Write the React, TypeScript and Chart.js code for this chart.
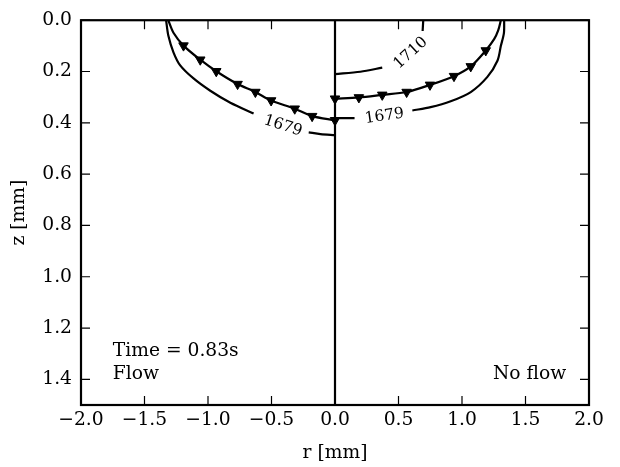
import { useEffect, useRef } from "react";
import { Chart, registerables } from "chart.js";

Chart.register(...registerables);

// Axis ticks
const rTicks = [-2, -1.5, -1, -0.5, 0, 0.5, 1, 1.5, 2];
const zTicks = [0, 0.2, 0.4, 0.6, 0.8, 1.0, 1.2, 1.4];

// Flow side (r < 0): melt front with markers
const flowFrontR = [-1.313, -1.272, -1.193, -1.061, -0.935, -0.767, -0.627, -0.503, -0.317, -0.18, 0];
const flowFrontZ = [0, 0.049, 0.099, 0.154, 0.199, 0.249, 0.28, 0.313, 0.345, 0.374, 0.39];
const flowMarkR = [-1.193, -1.061, -0.935, -0.767, -0.627, -0.503, -0.317, -0.18, 0];
const flowMarkZ = [0.099, 0.154, 0.199, 0.249, 0.28, 0.313, 0.345, 0.374, 0.39];

// Flow side: 1679 isotherm (split around its label)
const flow1679aR = [-1.33, -1.312, -1.272, -1.219, -1.114, -0.982, -0.824, -0.641];
const flow1679aZ = [0, 0.061, 0.125, 0.176, 0.227, 0.275, 0.322, 0.364];
const flow1679bR = [-0.207, -0.114, 0];
const flow1679bZ = [0.437, 0.444, 0.448];

// No-flow side (r > 0): melt front with markers
const noFlowFrontR = [1.306, 1.285, 1.253, 1.187, 1.069, 0.937, 0.748, 0.564, 0.372, 0.188, 0];
const noFlowFrontZ = [0, 0.04, 0.074, 0.118, 0.18, 0.218, 0.252, 0.28, 0.291, 0.301, 0.306];
const noFlowMarkR = [1.187, 1.069, 0.937, 0.748, 0.564, 0.372, 0.188, 0];
const noFlowMarkZ = [0.118, 0.18, 0.218, 0.252, 0.28, 0.291, 0.301, 0.306];

// No-flow side: 1679 isotherm
const noFlow1679aR = [1.332, 1.33, 1.306, 1.28, 1.2, 1.069, 0.911, 0.753, 0.609];
const noFlow1679aZ = [0, 0.05, 0.1, 0.157, 0.221, 0.28, 0.316, 0.339, 0.352];
const noFlow1679bR = [0, 0.154];
const noFlow1679bZ = [0.382, 0.382];

// No-flow side: 1710 isotherm
const noFlow1710aR = [0, 0.2, 0.372];
const noFlow1710aZ = [0.21, 0.201, 0.185];
const noFlow1710bR = [0.69, 0.695];
const noFlow1710bZ = [0.042, 0];

// Symmetry axis
const axisR = [0, 0];
const axisZ = [0, 1.5];

// Inline contour labels
const isoLabelText = ["1679", "1679", "1710"];
const isoLabelR = [-0.41, 0.39, 0.596];
const isoLabelZ = [0.412, 0.374, 0.128];
const isoLabelAngle = [18, -8, -42];

const FONT = '"DejaVu Serif", serif';
const FS = 18.7;

const pts = (r: number[], z: number[]) => r.map((v, i) => ({ x: v, y: z[i] }));
const fmt = (v: number) => {
  const s = Math.abs(v).toFixed(1);
  return v < -1e-9 ? "\u2212" + s : s;
};

const line = (r: number[], z: number[]) => ({
  data: pts(r, z),
  showLine: true,
  borderColor: "#000",
  borderWidth: 2.2,
  pointRadius: 0,
  tension: 0.3,
  fill: false,
});

const markers = (r: number[], z: number[]) => ({
  data: pts(r, z),
  showLine: false,
  pointStyle: "triangle" as const,
  rotation: 180,
  pointRadius: 5.5,
  backgroundColor: "#000",
  borderColor: "#000",
  borderWidth: 1,
});

const framePlugin = {
  id: "frameAndText",
  afterDatasetsDraw(chart: any) {
    const { ctx, chartArea: a, scales } = chart;
    const x = scales.x;
    const y = scales.y;
    ctx.save();
    ctx.strokeStyle = "#000";
    ctx.lineWidth = 1.2;
    const L = 9;
    ctx.beginPath();
    for (const v of rTicks) {
      const px = x.getPixelForValue(v);
      ctx.moveTo(px, a.bottom);
      ctx.lineTo(px, a.bottom - L);
      ctx.moveTo(px, a.top);
      ctx.lineTo(px, a.top + L);
    }
    for (const v of zTicks) {
      const py = y.getPixelForValue(v);
      ctx.moveTo(a.left, py);
      ctx.lineTo(a.left + L, py);
      ctx.moveTo(a.right, py);
      ctx.lineTo(a.right - L, py);
    }
    ctx.stroke();
    ctx.lineWidth = 2.2;
    ctx.strokeRect(a.left, a.top, a.right - a.left, a.bottom - a.top);

    ctx.fillStyle = "#000";
    ctx.font = `15.5px ${FONT}`;
    ctx.textAlign = "center";
    ctx.textBaseline = "middle";
    isoLabelText.forEach((t, i) => {
      ctx.save();
      ctx.translate(x.getPixelForValue(isoLabelR[i]), y.getPixelForValue(isoLabelZ[i]));
      ctx.rotate((isoLabelAngle[i] * Math.PI) / 180);
      ctx.fillText(t, 0, 0);
      ctx.restore();
    });

    ctx.font = `${FS}px ${FONT}`;
    ctx.textBaseline = "alphabetic";
    ctx.textAlign = "left";
    ctx.fillText("Time = 0.83s", x.getPixelForValue(-1.75), y.getPixelForValue(1.308));
    ctx.fillText("Flow", x.getPixelForValue(-1.75), y.getPixelForValue(1.4));
    ctx.textAlign = "right";
    ctx.fillText("No flow", x.getPixelForValue(1.82), y.getPixelForValue(1.4));
    ctx.restore();
  },
};

export default function App() {
  const ref = useRef<HTMLCanvasElement>(null);

  useEffect(() => {
    if (!ref.current) return;
    const chart = new Chart(ref.current, {
      type: "scatter",
      data: {
        datasets: [
          line(axisR, axisZ),
          line(flowFrontR, flowFrontZ),
          markers(flowMarkR, flowMarkZ),
          line(flow1679aR, flow1679aZ),
          line(flow1679bR, flow1679bZ),
          line(noFlowFrontR, noFlowFrontZ),
          markers(noFlowMarkR, noFlowMarkZ),
          line(noFlow1679aR, noFlow1679aZ),
          line(noFlow1679bR, noFlow1679bZ),
          line(noFlow1710aR, noFlow1710aZ),
          line(noFlow1710bR, noFlow1710bZ),
        ] as any,
      },
      options: {
        animation: false,
        responsive: true,
        maintainAspectRatio: false,
        layout: { padding: { top: 14, right: 31, left: 0, bottom: 0 } },
        plugins: { legend: { display: false }, tooltip: { enabled: false } },
        scales: {
          x: {
            type: "linear",
            min: -2,
            max: 2,
            grid: { display: false, drawTicks: false },
            border: { display: false },
            afterBuildTicks: (s: any) => {
              s.ticks = rTicks.map((v) => ({ value: v }));
            },
            afterFit: (s: any) => {
              s.height = 62;
            },
            ticks: {
              color: "#000",
              font: { family: FONT, size: FS },
              padding: 4,
              maxRotation: 0,
              callback: (v: any) => fmt(Number(v)),
            },
            title: {
              display: true,
              text: "r [mm]",
              color: "#000",
              font: { family: FONT, size: FS },
              padding: { top: 0, bottom: 3 },
            },
          },
          y: {
            type: "linear",
            reverse: true,
            min: 0,
            max: 1.5,
            grid: { display: false, drawTicks: false },
            border: { display: false },
            afterBuildTicks: (s: any) => {
              s.ticks = zTicks.map((v) => ({ value: v }));
            },
            afterFit: (s: any) => {
              s.width = 81;
            },
            ticks: {
              color: "#000",
              font: { family: FONT, size: FS },
              padding: 9,
              callback: (v: any) => fmt(Number(v)),
            },
            title: {
              display: true,
              text: "z [mm]",
              color: "#000",
              font: { family: FONT, size: FS },
              padding: { top: 8, bottom: 0 },
            },
          },
        },
      } as any,
      plugins: [framePlugin],
    });
    return () => chart.destroy();
  }, []);

  return (
    <div style={{ position: "fixed", left: 0, top: 0, width: 620, height: 467, background: "#fff" }}>
      <canvas ref={ref} />
    </div>
  );
}
